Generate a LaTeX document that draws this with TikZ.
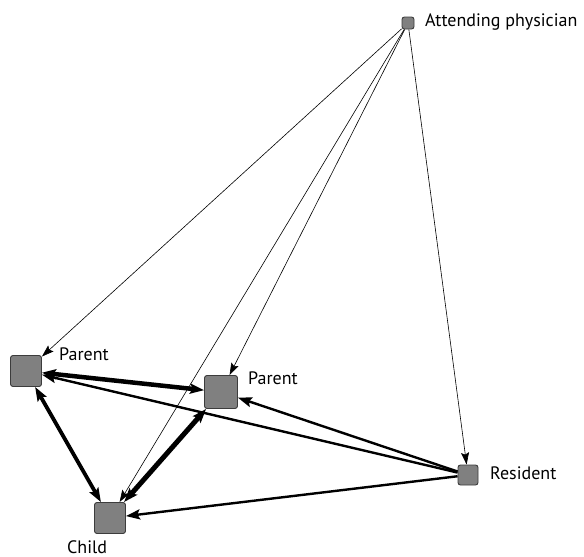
\documentclass[tikz,border=0pt]{standalone}
\usepackage{fontspec}
\setmainfont{PT Sans}
\usetikzlibrary{arrows.meta}
\definecolor{boxgray}{RGB}{128,128,128}
\definecolor{boxedge}{RGB}{60,60,60}
\begin{document}
\begin{tikzpicture}[x=1pt,y=-1pt,
  box/.style={draw=boxedge, fill=boxgray, rounded corners=2.5pt, inner sep=0pt, line width=0.9pt},
  lbl/.style={font=\fontsize{18}{21}\selectfont, anchor=base west, inner sep=0pt},
  thinarr/.style={line width=0.6pt, -{Stealth[length=12pt,width=8pt,inset=2pt]}},
  medarr/.style={line width=2.4pt, -{Stealth[length=14pt,width=10pt,inset=2.5pt]}},
  bidir/.style={{Stealth[length=14pt,width=10pt,inset=2.5pt]}-{Stealth[length=14pt,width=10pt,inset=2.5pt]}}
]
\useasboundingbox (0,0) rectangle (584,557);
\node[box, minimum size=12pt] (att) at (408,23) {};
\node[box, minimum size=31pt] (p1) at (26,371) {};
\node[box, minimum size=33pt] (p2) at (221,392) {};
\node[box, minimum size=20pt] (res) at (468,475) {};
\node[box, minimum size=31pt] (ch) at (110,518) {};

\node[lbl] (latt) at (425,26) {Attending physician};
\node[lbl] (lp1) at (59,360) {Parent};
\node[lbl] (lp2) at (248,384) {Parent};
\node[lbl] (lres) at (490,479) {Resident};
\node[lbl] (lch) at (67,553) {Child};

\draw[thinarr] (att) -- (p1);
\draw[thinarr] (att) -- (p2);
\draw[thinarr] (att) -- (ch);
\draw[thinarr] (att) -- (res);

\draw[medarr] (res) -- (p1);
\draw[medarr] (res) -- (p2);
\draw[medarr] (res) -- (ch);

\draw[bidir, line width=4.5pt] (p1) -- (p2);
\draw[bidir, line width=3.8pt] (p1) -- (ch);
\draw[bidir, line width=5pt] (p2) -- (ch);
\end{tikzpicture}
\end{document}
